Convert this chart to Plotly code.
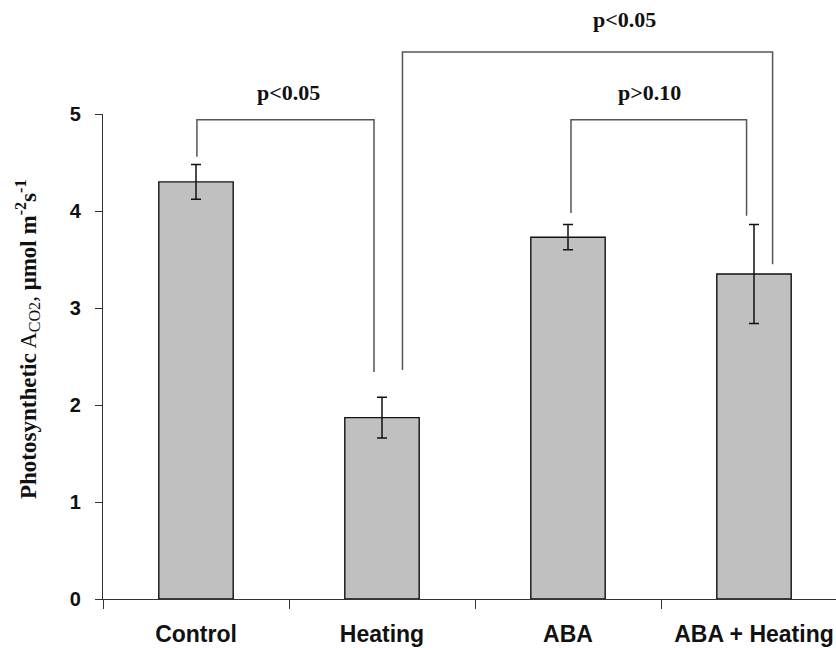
import plotly.graph_objects as go

# Treatment groups and photosynthetic rate (mean ± error)
categories = ["Control", "Heating", "ABA", "ABA + Heating"]
means = [4.30, 1.87, 3.73, 3.35]
errors = [0.18, 0.21, 0.13, 0.51]
y_ticks = [0, 1, 2, 3, 4, 5]

# Significance brackets: (x path, y path, label, label x, label y)
brackets = [
    ([0.005, 0.005, 0.957, 0.957], [4.56, 4.94, 4.94, 2.34], "p<0.05", 0.495, 5.22),
    ([1.11, 1.11, 3.10, 3.10], [2.36, 5.64, 5.64, 3.45], "p<0.05", 2.306, 5.97),
    ([2.016, 2.016, 2.96, 2.96], [3.98, 4.94, 4.94, 3.95], "p>0.10", 2.44, 5.22),
]

W, H = 836, 648
ML, MB = 103, 49
plot_w = W - ML
plot_h = H - MB
px_per_cat = 186.0
px_per_unit = 97.0
x_hi = -0.5 + plot_w / px_per_cat
y2_hi = plot_h / px_per_unit

fig = go.Figure()

fig.add_trace(go.Bar(
    x=categories,
    y=means,
    width=0.4,
    marker=dict(color="#c0c0c0", line=dict(color="#111111", width=1.4)),
    error_y=dict(type="data", array=errors, visible=True,
                 color="#111111", thickness=1.5, width=5),
    showlegend=False,
    hoverinfo="skip",
))

for bx, by, label, lx, ly in brackets:
    fig.add_trace(go.Scatter(
        x=bx, y=by, mode="lines", xaxis="x2", yaxis="y2",
        line=dict(color="#555555", width=1.5),
        showlegend=False, hoverinfo="skip",
    ))
    fig.add_annotation(
        x=lx, y=ly, xref="x2", yref="y2", text="<b>%s</b>" % label,
        showarrow=False, xanchor="center", yanchor="middle",
        font=dict(family="Liberation Serif, Times New Roman, serif", size=22, color="#111111"),
    )

fig.add_annotation(
    x=(27 - ML) / plot_w, y=(599 - 340) / px_per_unit, xref="paper", yref="y2",
    text=("<b>Photosynthetic</b> A<sub>CO2</sub>, <b>μmol m<sup>-2</sup>s<sup>-1</sup></b>"),
    textangle=-90, showarrow=False, xanchor="center", yanchor="middle",
    font=dict(family="Liberation Serif, Times New Roman, serif", size=23, color="#111111"),
)

fig.update_layout(
    width=W, height=H,
    margin=dict(l=ML, r=0, t=0, b=MB, pad=0),
    plot_bgcolor="rgba(0,0,0,0)", paper_bgcolor="white",
    xaxis=dict(
        type="category", range=[-0.5, x_hi],
        ticktext=["<b>%s</b>" % c for c in categories], tickvals=categories,
        ticks="outside", ticklen=9, tickwidth=1.2, tickcolor="#333333",
        tickson="boundaries", showline=True, linecolor="#333333", linewidth=1.2,
        showgrid=False, zeroline=False, ticklabelstandoff=14, automargin=False,
        tickfont=dict(family="Liberation Sans, Arial, sans-serif", size=23, color="#111111"),
    ),
    yaxis=dict(
        domain=[0, 5 * px_per_unit / plot_h], range=[0, 5],
        tickvals=y_ticks, ticktext=["<b>%d</b>" % v for v in y_ticks],
        ticks="outside", ticklen=7, tickwidth=1.2, tickcolor="#333333",
        showline=True, linecolor="#333333", linewidth=1.2,
        showgrid=False, zeroline=False, ticklabelstandoff=10, automargin=False,
        tickfont=dict(family="Liberation Sans, Arial, sans-serif", size=20, color="#111111"),
    ),
    xaxis2=dict(range=[-0.5, x_hi], anchor="y2", domain=[0, 1], visible=False),
    yaxis2=dict(range=[0, y2_hi], anchor="x2", domain=[0, 1], visible=False),
)

fig.write_html("out.html")
